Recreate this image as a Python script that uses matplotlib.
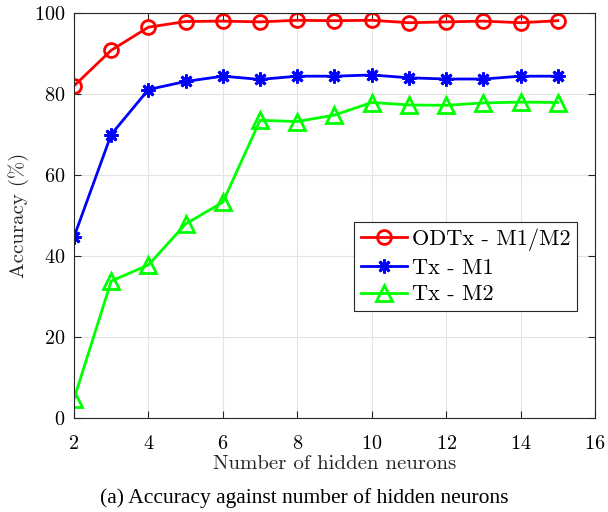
import numpy as np
import matplotlib
matplotlib.use('Agg')
import matplotlib.pyplot as plt

# data
neurons = [2, 3, 4, 5, 6, 7, 8, 9, 10, 11, 12, 13, 14, 15]
acc_odtx = [82.0, 90.8, 96.5, 97.9, 98.0, 97.8, 98.2, 98.1, 98.2, 97.6, 97.8, 98.0, 97.6, 98.1]
acc_tx_m1 = [44.7, 70.0, 81.1, 83.1, 84.4, 83.6, 84.4, 84.4, 84.7, 84.0, 83.7, 83.7, 84.4, 84.4]
acc_tx_m2 = [4.7, 33.8, 37.8, 47.9, 53.3, 73.5, 73.2, 74.8, 77.9, 77.3, 77.2, 77.8, 78.0, 77.9]
series_labels = ['ODTx - M1/M2', 'Tx - M1', 'Tx - M2']
xticks = [2, 4, 6, 8, 10, 12, 14, 16]
yticks = [0, 20, 40, 60, 80, 100]

plt.rcParams['font.family'] = ['cmr10']
plt.rcParams['mathtext.fontset'] = 'cm'
plt.rcParams['axes.formatter.use_mathtext'] = True

fig = plt.figure(figsize=(6.08, 5.12), dpi=100)
ax = fig.add_axes([0.1217, 0.1836, 0.8569, 0.791])

ax.plot(neurons, acc_odtx, color='#ff0000', lw=2, marker='o', ms=10,
        mfc='none', mew=2, label=series_labels[0])
ax.plot(neurons, acc_tx_m1, color='#0000ff', lw=2, marker=(8, 2, 0), ms=10,
        mew=2, label=series_labels[1])
ax.plot(neurons, acc_tx_m2, color='#00ff00', lw=2, marker='^', ms=11,
        mfc='none', mew=2, label=series_labels[2])

ax.set_xlim(2, 16)
ax.set_ylim(0, 100)
ax.set_xticks(xticks)
ax.set_yticks(yticks)
ax.tick_params(direction='in', top=True, right=True, labelsize=14.5, length=5,
               color='#262626')
ax.tick_params(axis='x', pad=12)
ax.tick_params(axis='y', pad=6)
ax.grid(True, color='#e3e3e3', lw=0.8)
ax.set_axisbelow(True)
for s in ax.spines.values():
    s.set_color('#262626')
    s.set_linewidth(0.8)

ax.set_xlabel('Number of hidden neurons', fontsize=15, labelpad=2, color='#262626')
ax.set_ylabel('Accuracy (%)', fontsize=15, labelpad=4, color='#262626')

leg = ax.legend(loc='upper right', bbox_to_anchor=(0.9655, 0.484), fontsize=16,
                fancybox=False, framealpha=1, edgecolor='#262626',
                borderpad=0.3, labelspacing=0.32, handlelength=2.1,
                handletextpad=0.2, borderaxespad=0)
leg.get_frame().set_linewidth(0.8)

fig.text(0.5, 0.027, '(a) Accuracy against number of hidden neurons',
         ha='center', va='center', fontsize=15.5, family='Liberation Serif')

fig.savefig('out.png', dpi=100)
